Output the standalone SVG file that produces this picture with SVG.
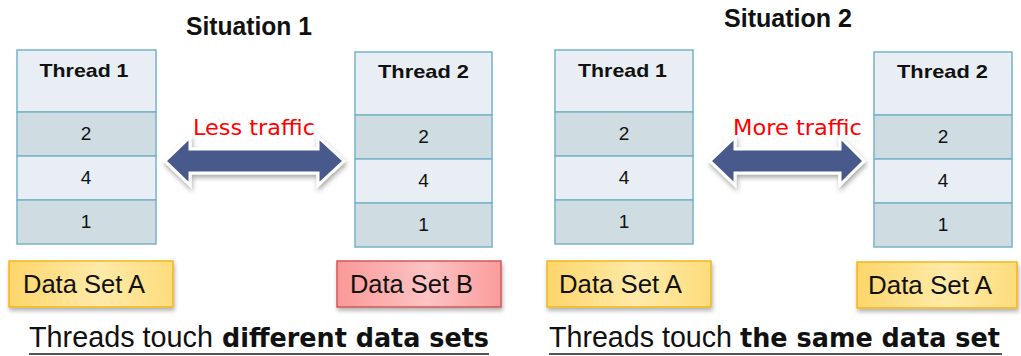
<svg xmlns="http://www.w3.org/2000/svg" width="1021" height="356" viewBox="0 0 1021 356">
<style>
.cellL{fill:#e8eef3;stroke:#78b4c7;stroke-width:1.5}
.cellD{fill:#cfdce2;stroke:#78b4c7;stroke-width:1.5}
.hdr{font-family:"Liberation Sans",Arial,sans-serif;font-weight:bold;font-size:19px;fill:#111;text-anchor:middle}
.num{font-family:"Liberation Sans",Arial,sans-serif;font-size:19px;fill:#111;text-anchor:middle}
.title{font-family:"Liberation Sans",Arial,sans-serif;font-weight:bold;font-size:25px;fill:#111}
.ds{font-family:"Liberation Sans",Arial,sans-serif;font-size:25px;fill:#111}
.red{font-family:"DejaVu Sans",Verdana,sans-serif;font-size:22px;fill:#ff0000}
.reg{font-family:"Liberation Sans",Arial,sans-serif;font-size:30px;fill:#111}
.bold{font-family:"DejaVu Sans",Verdana,sans-serif;font-weight:bold;font-size:27px;fill:#111}
.arrow{fill:#475a8b;stroke:#ffffff;stroke-width:3;stroke-linejoin:miter;filter:url(#sh)}
.dsA{fill:url(#gA);stroke:#f2b61e;stroke-width:1.5;filter:url(#sh2)}
.dsB{fill:url(#gB);stroke:#cf5a5a;stroke-width:1.5;filter:url(#sh2)}
.ul{stroke:#555;stroke-width:2}
</style>
<defs>
<filter id="sh" x="-20%" y="-40%" width="140%" height="180%">
<feDropShadow dx="1" dy="3" stdDeviation="2.5" flood-color="#000" flood-opacity="0.35"/>
</filter>
<filter id="sh2" x="-10%" y="-20%" width="120%" height="150%">
<feDropShadow dx="1" dy="3" stdDeviation="2" flood-color="#000" flood-opacity="0.3"/>
</filter>
<linearGradient id="gA" x1="0" y1="0" x2="1" y2="0">
<stop offset="0" stop-color="#fdd66a"/>
<stop offset="0.55" stop-color="#feeaa8"/>
<stop offset="1" stop-color="#fddc7c"/>
</linearGradient>
<linearGradient id="gB" x1="0" y1="0" x2="1" y2="0">
<stop offset="0" stop-color="#fb9898"/>
<stop offset="0.55" stop-color="#fdc3c3"/>
<stop offset="1" stop-color="#fb9c9c"/>
</linearGradient>
</defs>
<rect width="1021" height="356" fill="#ffffff"/>

<text class="title" x="186" y="35" textLength="126" lengthAdjust="spacingAndGlyphs">Situation 1</text>
<text class="title" x="724" y="27" textLength="128" lengthAdjust="spacingAndGlyphs">Situation 2</text>

<g id="s1-thread1">
<rect class="cellL" x="17" y="50" width="139" height="62"/>
<rect class="cellD" x="17" y="112" width="139" height="44"/>
<rect class="cellL" x="17" y="156" width="139" height="44"/>
<rect class="cellD" x="17" y="200" width="139" height="44"/>
<text class="hdr" x="84" y="77" textLength="89" lengthAdjust="spacingAndGlyphs">Thread 1</text>
<text class="num" x="86" y="140">2</text>
<text class="num" x="86" y="184">4</text>
<text class="num" x="86" y="228">1</text>
</g>

<g id="s1-thread2">
<rect class="cellL" x="355" y="52" width="137" height="63"/>
<rect class="cellD" x="355" y="115" width="137" height="44"/>
<rect class="cellL" x="355" y="159" width="137" height="44"/>
<rect class="cellD" x="355" y="203" width="137" height="44"/>
<text class="hdr" x="423.5" y="78" textLength="91" lengthAdjust="spacingAndGlyphs">Thread 2</text>
<text class="num" x="423.5" y="143">2</text>
<text class="num" x="423.5" y="187">4</text>
<text class="num" x="423.5" y="231">1</text>
</g>

<g id="s2-thread1">
<rect class="cellL" x="555" y="50" width="138" height="62"/>
<rect class="cellD" x="555" y="112" width="138" height="44"/>
<rect class="cellL" x="555" y="156" width="138" height="44"/>
<rect class="cellD" x="555" y="200" width="138" height="44"/>
<text class="hdr" x="622.5" y="77" textLength="89" lengthAdjust="spacingAndGlyphs">Thread 1</text>
<text class="num" x="624" y="140">2</text>
<text class="num" x="624" y="184">4</text>
<text class="num" x="624" y="228">1</text>
</g>

<g id="s2-thread2">
<rect class="cellL" x="874" y="52" width="138" height="63"/>
<rect class="cellD" x="874" y="115" width="138" height="44"/>
<rect class="cellL" x="874" y="159" width="138" height="44"/>
<rect class="cellD" x="874" y="203" width="138" height="44"/>
<text class="hdr" x="942.5" y="78" textLength="91" lengthAdjust="spacingAndGlyphs">Thread 2</text>
<text class="num" x="943" y="143">2</text>
<text class="num" x="943" y="187">4</text>
<text class="num" x="943" y="231">1</text>
</g>

<g id="connectors">
<path class="arrow" d="M165,161 L190,137 L190,149 L318,149 L318,137 L344,161 L318,185 L318,173 L190,173 L190,185 Z"/>
<path class="arrow" d="M710,161 L735,137 L735,149 L840,149 L840,137 L864,161 L840,185 L840,173 L735,173 L735,185 Z"/>
<text class="red" x="193" y="135" textLength="122" lengthAdjust="spacingAndGlyphs">Less traffic</text>
<text class="red" x="733" y="135" textLength="129" lengthAdjust="spacingAndGlyphs">More traffic</text>
</g>

<g id="s1-datasetA">
<rect class="dsA" x="9" y="261" width="164" height="46"/>
<text class="ds" x="23" y="293" textLength="122" lengthAdjust="spacingAndGlyphs">Data Set A</text>
</g>
<g id="s1-datasetB">
<rect class="dsB" x="337" y="261" width="164" height="46"/>
<text class="ds" x="350" y="293" textLength="123" lengthAdjust="spacingAndGlyphs">Data Set B</text>
</g>
<g id="s2-datasetA1">
<rect class="dsA" x="547" y="261" width="164" height="46"/>
<text class="ds" x="559" y="293" textLength="123" lengthAdjust="spacingAndGlyphs">Data Set A</text>
</g>
<g id="s2-datasetA2">
<rect class="dsA" x="857" y="262" width="160" height="46"/>
<text class="ds" x="868" y="294" textLength="124" lengthAdjust="spacingAndGlyphs">Data Set A</text>
</g>

<g id="caption1">
<text x="29" y="347"><tspan class="reg" textLength="184" lengthAdjust="spacingAndGlyphs">Threads touch</tspan><tspan class="bold" x="222" textLength="267" lengthAdjust="spacingAndGlyphs">different data sets</tspan></text>
<line class="ul" x1="29" y1="354" x2="489" y2="354"/>
</g>
<g id="caption2">
<text x="549" y="347"><tspan class="reg" textLength="183" lengthAdjust="spacingAndGlyphs">Threads touch</tspan><tspan class="bold" x="740" textLength="260" lengthAdjust="spacingAndGlyphs">the same data set</tspan></text>
<line class="ul" x1="549" y1="354" x2="1002" y2="354"/>
</g>
</svg>
